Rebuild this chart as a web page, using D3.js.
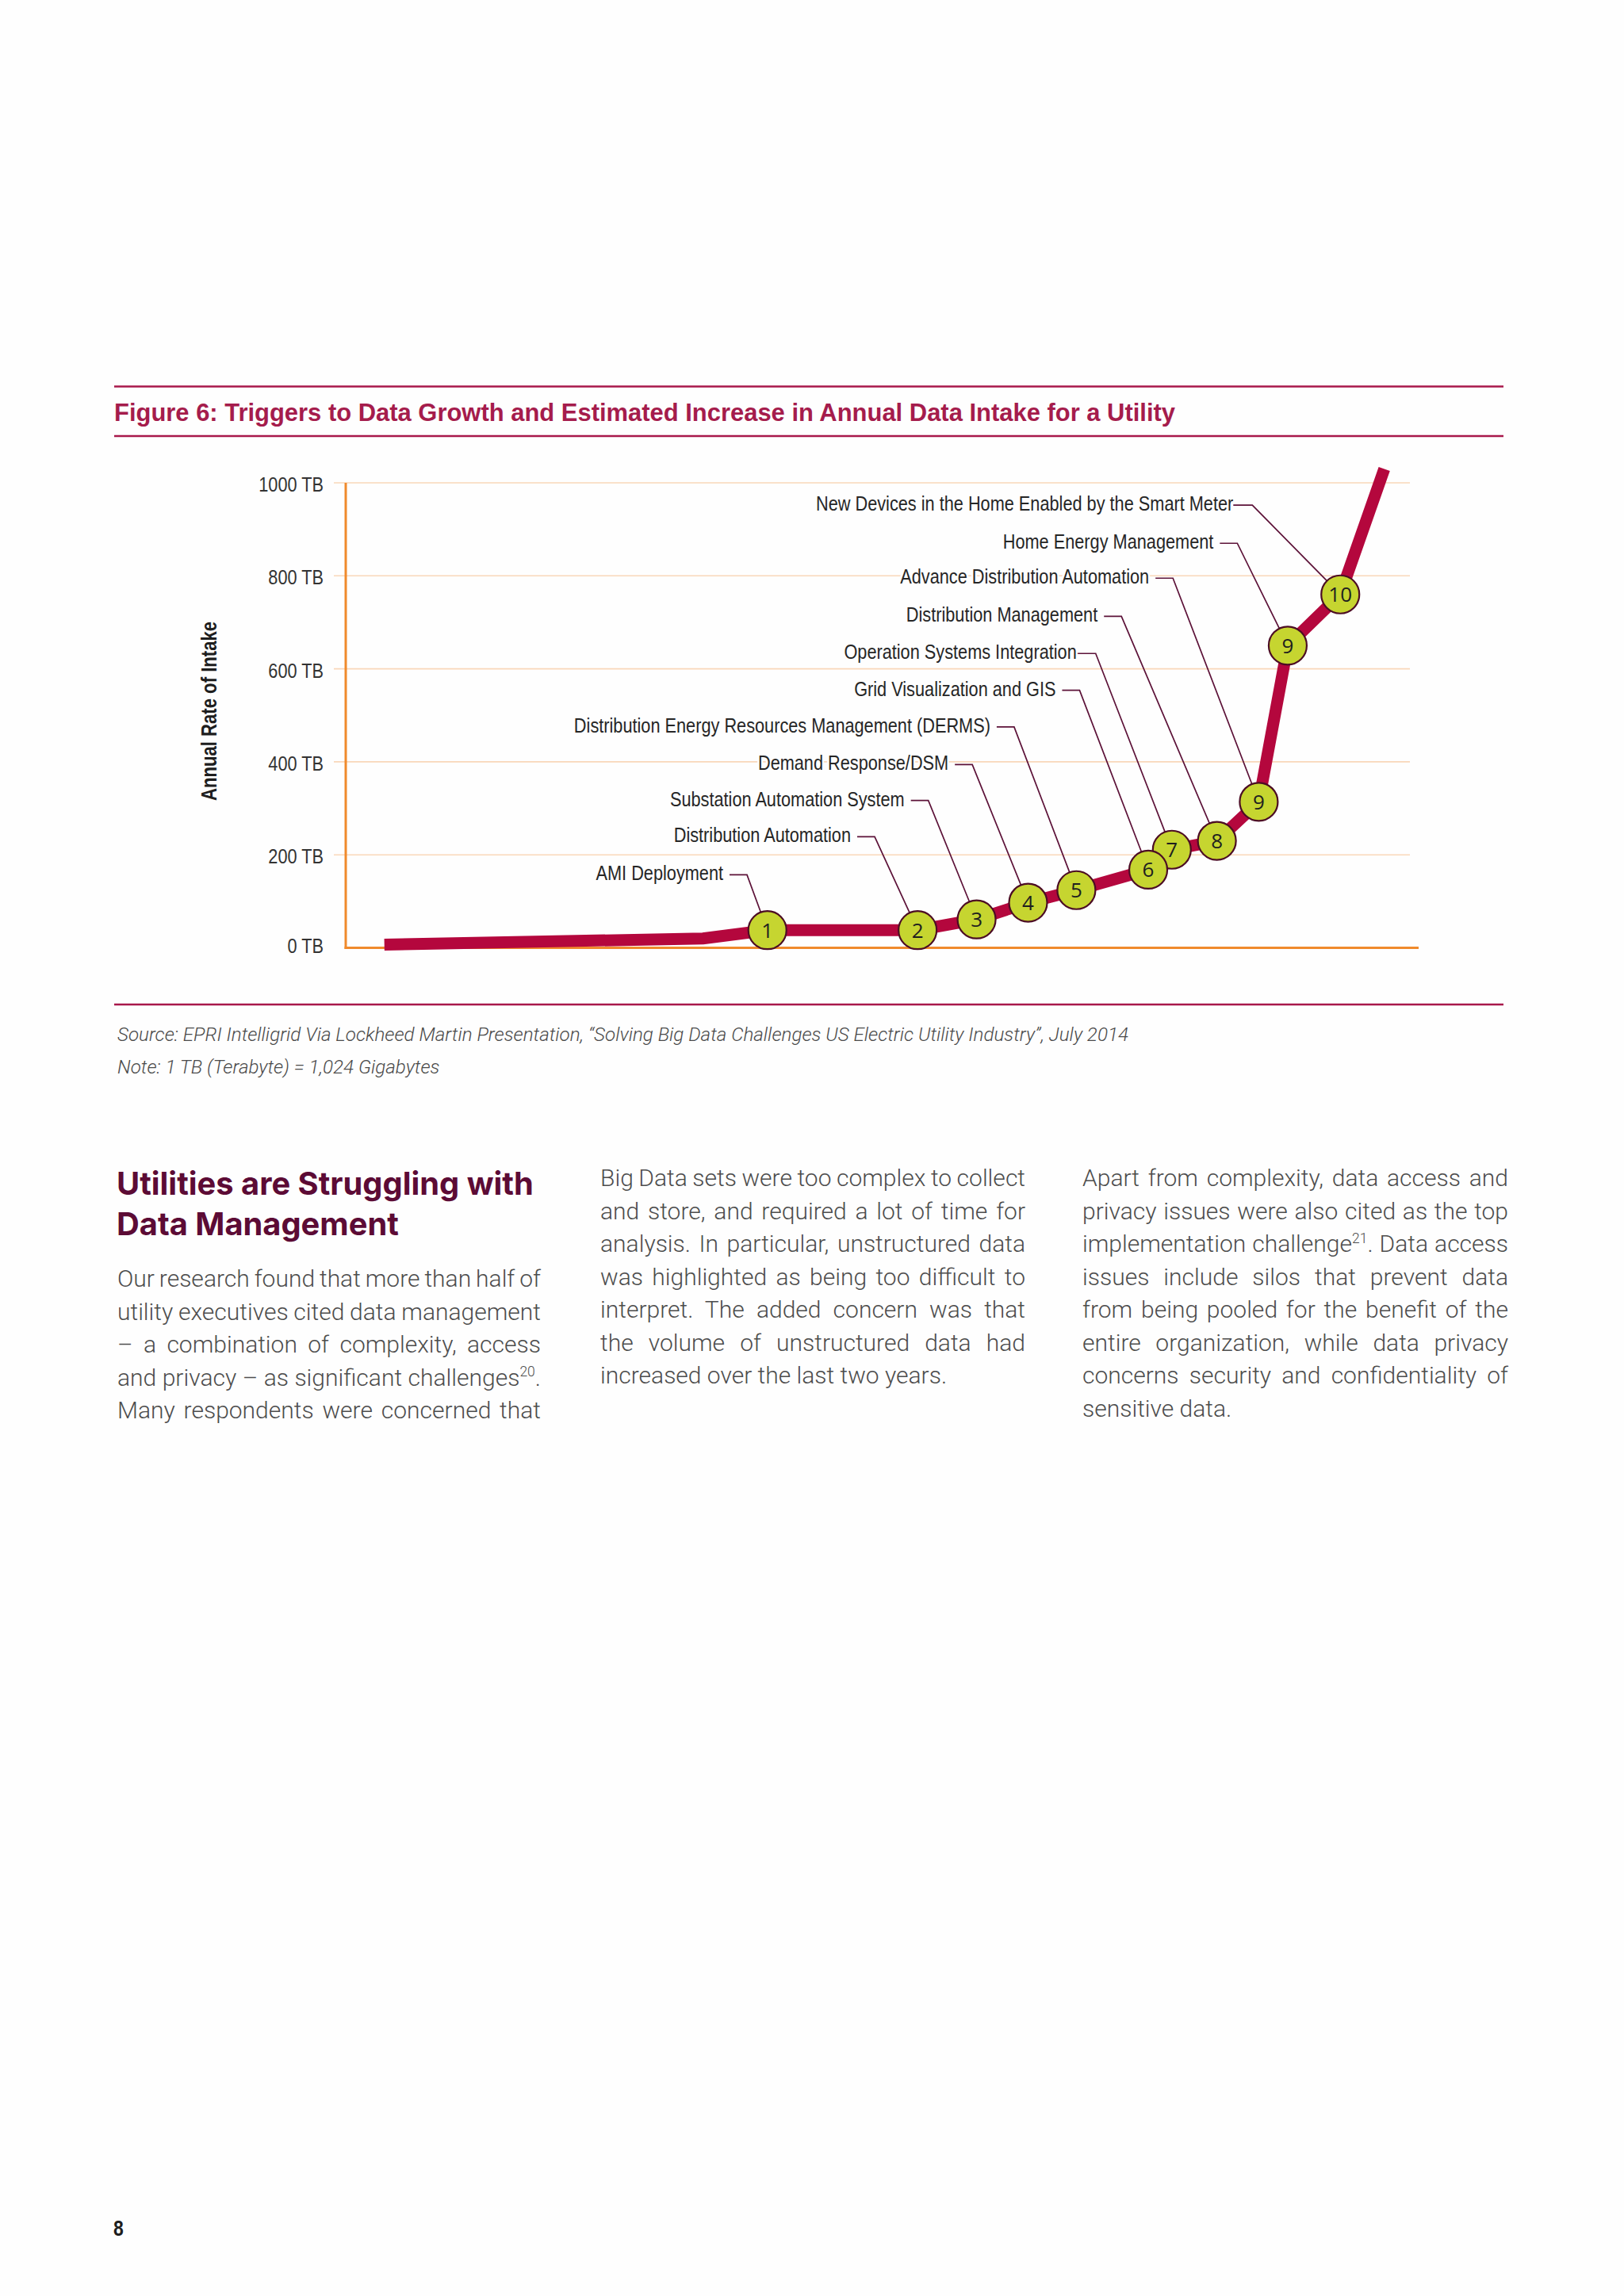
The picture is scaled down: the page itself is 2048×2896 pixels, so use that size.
<!DOCTYPE html>
<html><head><meta charset="utf-8">
<script src="https://cdn.jsdelivr.net/npm/d3@7"></script>
<style>
html,body{margin:0;padding:0;background:#fefefe;}
#page{position:relative;width:2048px;height:2896px;overflow:hidden;}
</style></head>
<body><div id="page"></div>
<script>
// ---------------- DATA ----------------
const yTicks = [0, 200, 400, 600, 800, 1000];
const yTickLabels = ["0 TB", "200 TB", "400 TB", "600 TB", "800 TB", "1000 TB"];
// position along the (unlabelled) time axis, 0-100
const stageX   = [3.6, 33.3, 39.3, 53.3, 58.8, 63.6, 68.1, 74.8, 77.0, 81.2, 85.1, 87.8, 92.7, 96.8];
// annual data intake, TB
const intakeTB = [7, 20, 38, 38, 61, 97, 124, 168, 211, 230, 314, 650, 760, 1030];
const markerNums = [null, null, "1", "2", "3", "4", "5", "6", "7", "8", "9", "9", "10", null];
const triggerLabels = [
  "AMI Deployment", "Distribution Automation", "Substation Automation System",
  "Demand Response/DSM", "Distribution Energy Resources Management (DERMS)",
  "Grid Visualization and GIS", "Operation Systems Integration", "Distribution Management",
  "Advance Distribution Automation", "Home Energy Management",
  "New Devices in the Home Enabled by the Smart Meter"];
const triggerPoint = [2, 3, 4, 5, 6, 7, 8, 9, 10, 11, 12];
const labelStageX = [37.4, 49.3, 54.3, 58.4, 62.3, 68.4, 69.9, 72.3, 77.1, 83.1, 84.5];
const labelTB     = [157, 239, 317, 394, 475, 554, 633, 713, 795, 870, 952];
const labelTight  = [false, false, false, false, false, false, true, false, false, false, true];

const titleText = "Figure 6: Triggers to Data Growth and Estimated Increase in Annual Data Intake for a Utility";
const yAxisTitle = "Annual Rate of Intake";
const sourceText = "Source: EPRI Intelligrid Via Lockheed Martin Presentation, \u201cSolving Big Data Challenges US Electric Utility Industry\u201d, July 2014";
const noteText = "Note: 1 TB (Terabyte) = 1,024 Gigabytes";
const headingLines = ["Utilities are Struggling with", "Data Management"];
const col1Lines = [
  [{t:"Our research found that more than half of"}],
  [{t:"utility executives cited data management"}],
  [{t:"\u2013 a combination of complexity, access"}],
  [{t:"and privacy \u2013 as significant challenges"},{t:"20",sup:true},{t:"."}],
  [{t:"Many respondents were concerned that"}]];
const col1Justify = [true,true,true,true,true];
const col2Lines = [
  [{t:"Big Data sets were too complex to collect"}],
  [{t:"and store, and required a lot of time for"}],
  [{t:"analysis. In particular, unstructured data"}],
  [{t:"was highlighted as being too difficult to"}],
  [{t:"interpret. The added concern was that"}],
  [{t:"the volume of unstructured data had"}],
  [{t:"increased over the last two years."}]];
const col2Justify = [true,true,true,true,true,true,false];
const col3Lines = [
  [{t:"Apart from complexity, data access and"}],
  [{t:"privacy issues were also cited as the top"}],
  [{t:"implementation challenge"},{t:"21",sup:true},{t:". Data access"}],
  [{t:"issues include silos that prevent data"}],
  [{t:"from being pooled for the benefit of the"}],
  [{t:"entire organization, while data privacy"}],
  [{t:"concerns security and confidentiality of"}],
  [{t:"sensitive data."}]];
const col3Justify = [true,true,true,true,true,true,true,false];
const pageNumber = "8";

// ---------------- FONTS ----------------
function hasFont(name){
  const c=document.createElement('canvas').getContext('2d');
  const s='abcdefghijklmnopqrstuvwxyzABCDEFGHIJ0123456789';
  c.font='40px monospace'; const a=c.measureText(s).width;
  c.font='40px "'+name+'", monospace'; const b=c.measureText(s).width;
  return Math.abs(a-b)>0.5;
}
const HAS_NARROW = hasFont('Liberation Sans Narrow');
const NFAM = HAS_NARROW ? '"Liberation Sans Narrow", "Liberation Sans", sans-serif' : '"Liberation Sans", Arial, sans-serif';
const NSCALE = HAS_NARROW ? 1 : 0.82;
const BODYFAM = 'Roboto, "Liberation Sans", sans-serif';

// ---------------- SETUP ----------------
const W = 2048, H = 2896;
const svg = d3.select('#page').append('svg').attr('width', W).attr('height', H)
  .style('position','absolute').style('left',0).style('top',0);
svg.append('rect').attr('width', W).attr('height', H).attr('fill', '#fefefe');

const x = d3.scaleLinear().domain([0, 100]).range([436, 1789]);
const y = d3.scaleLinear().domain([0, 1000]).range([1195.5, 609]);

function ctext(parent, px, py, str, o){
  o = o || {};
  const g = parent.append('g').attr('transform', `translate(${px},${py})${o.rotate?` rotate(${o.rotate})`:''} scale(${NSCALE},1)`);
  const t = g.append('text').attr('font-family', NFAM).attr('font-size', o.size||26.5)
    .attr('font-weight', o.weight||400).attr('fill', o.fill||'#262626')
    .attr('text-anchor', o.anchor||'start').text(str);
  if (o.halo) t.attr('stroke', '#fefefe').attr('stroke-width', 6).attr('paint-order','stroke').attr('stroke-linejoin','round');
  return t;
}
function fitText(sel, target){
  const L = sel.node().getComputedTextLength();
  const fs = +sel.attr('font-size');
  sel.attr('font-size', fs*target/L);
}

const RULE = '#a8184b';
[487.5, 550, 1267].forEach(yy => svg.append('line').attr('x1',144).attr('x2',1896).attr('y1',yy).attr('y2',yy)
  .attr('stroke', RULE).attr('stroke-width', 2.6));

// title (fit to width)
const title = svg.append('text').attr('x',144).attr('y',531).attr('font-family','"Liberation Sans", Arial, sans-serif')
  .attr('font-weight',700).attr('font-size',100).attr('fill','#a51c4c').text(titleText);
fitText(title, 1339);

// ---------------- CHART ----------------
const chart = svg.append('g');
chart.selectAll('line.grid').data(yTicks.filter(v=>v>0)).join('line').attr('class','grid')
  .attr('x1', 421).attr('x2', 1778).attr('y1', d=>y(d)).attr('y2', d=>y(d))
  .attr('stroke', '#f9d7b9').attr('stroke-width', 1.6);
yTicks.forEach((v,i)=> ctext(chart, 408, y(v)+(v===0?6:11), yTickLabels[i], {anchor:'end', size:26.5, fill:'#333'}));
chart.append('line').attr('x1', 436).attr('x2', 436).attr('y1', y(1000)).attr('y2', y(0)+1.5)
  .attr('stroke', '#f08a2c').attr('stroke-width', 3);
chart.append('line').attr('x1', 434.5).attr('x2', 1789).attr('y1', y(0)).attr('y2', y(0))
  .attr('stroke', '#f08a2c').attr('stroke-width', 3);
ctext(chart, 273, 897, yAxisTitle, {rotate:-90, anchor:'middle', size:27, weight:700, fill:'#1e1e1e'});

const pts = stageX.map((sx,i)=>[x(sx), y(intakeTB[i])]);
chart.append('path').attr('d', d3.line()(pts)).attr('fill','none')
  .attr('stroke', '#b4073d').attr('stroke-width', 15).attr('stroke-linejoin','miter').attr('stroke-linecap','butt');

const R = 24;
triggerLabels.forEach((lab, i) => {
  const ex = x(labelStageX[i]), ey = y(labelTB[i]);
  const p = pts[triggerPoint[i]];
  const dx = p[0]-ex, dy = p[1]-ey, len = Math.hypot(dx,dy);
  const tx = p[0] - R*dx/len, ty = p[1] - R*dy/len;
  const hl = labelTight[i] ? 24 : 22;
  chart.append('path').attr('d', `M${ex-hl},${ey}L${ex},${ey}L${tx},${ty}`)
    .attr('fill','none').attr('stroke','#5c1238').attr('stroke-width',1.7);
  ctext(chart, ex - (labelTight[i] ? 24 : 30), ey+7, lab, {anchor:'end', size:26.5, fill:'#262626', halo:true});
});

const mk = pts.map((p,i)=>({p, n:markerNums[i], i})).filter(d=>d.n!==null).reverse();
const mg = chart.selectAll('g.mk').data(mk).join('g').attr('class','mk')
  .attr('transform', d=>`translate(${d.p[0]},${d.p[1]})`);
mg.append('circle').attr('r', R).attr('fill', '#c6d530').attr('stroke', '#4c0d24').attr('stroke-width', 2.2);
mg.append('text').attr('text-anchor','middle').attr('dy','0.36em').attr('font-family','"Open Sans", "Noto Sans", sans-serif')
  .attr('font-size', 26).attr('fill','#1f1f1f').text(d=>d.n);

// source / note
svg.append('text').attr('x',148).attr('y',1313).attr('font-family',BODYFAM).attr('font-weight',300)
  .attr('font-style','italic').attr('font-size',24.2).attr('fill','#4a4a4a').text(sourceText);
svg.append('text').attr('x',148).attr('y',1354).attr('font-family',BODYFAM).attr('font-weight',300)
  .attr('font-style','italic').attr('font-size',24.2).attr('fill','#4a4a4a').text(noteText);

// ---------------- BODY TEXT ----------------
const hd = headingLines.map((s,i)=> svg.append('text').attr('x',147).attr('y',1507+i*51)
  .attr('font-family','Inter, Lato, "Open Sans", sans-serif').attr('font-weight',700).attr('font-size',38)
  .attr('fill','#5c0b35').text(s));
{ const L = hd[0].node().getComputedTextLength(); const fs = 38*526/L; hd.forEach(h=>h.attr('font-size', fs)); }

function drawColumn(lines, just, x0, width, y0, lh){
  lines.forEach((segs, i) => {
    const t = svg.append('text').attr('x', x0).attr('y', y0 + i*lh)
      .attr('font-family', BODYFAM).attr('font-weight', 300).attr('font-size', 30).attr('fill', '#4d4d4d');
    let full = '';
    let shifted = false;
    segs.forEach(s => {
      const ts = t.append('tspan').text(s.t);
      if (s.sup) { ts.attr('font-size', 17.5).attr('dy', -11.5); shifted = true; }
      else if (shifted) { ts.attr('dy', 11.5); shifted = false; }
      full += s.t;
    });
    if (just[i]) {
      const L = t.node().getComputedTextLength();
      const n = (full.match(/ /g) || []).length;
      if (n > 0) t.attr('word-spacing', (width - L) / n);
    }
  });
}
drawColumn(col1Lines, col1Justify, 148, 534, 1623, 41.5);
drawColumn(col2Lines, col2Justify, 757, 536, 1496, 41.5);
drawColumn(col3Lines, col3Justify, 1365, 537, 1496, 41.5);

ctext(svg, 143, 2820, pageNumber, {size:28, weight:700, fill:'#1e1e1e'});
</script>
</body></html>
